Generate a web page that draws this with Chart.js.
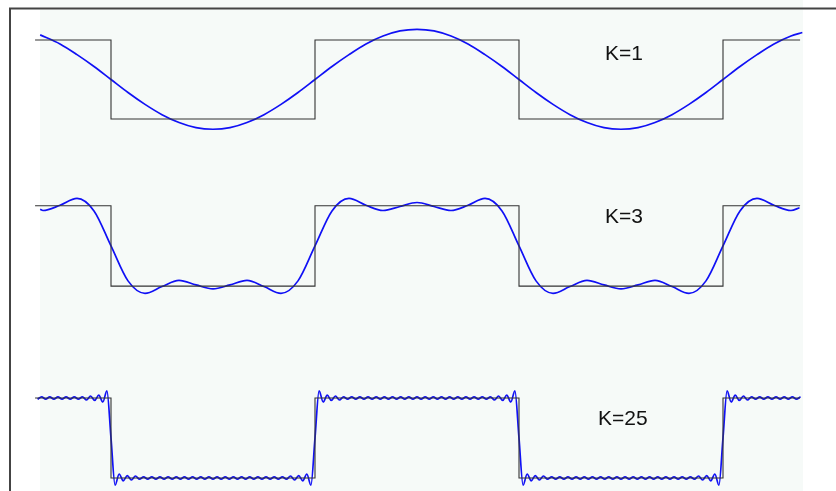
<!DOCTYPE html>
<html>
<head>
<meta charset="utf-8">
<title>Square wave Fourier partial sums</title>
<script src="https://cdn.jsdelivr.net/npm/chart.js"></script>
<style>
  html, body { margin: 0; padding: 0; background: #fff; }
  #wrap { width: 836px; height: 491px; }
</style>
</head>
<body>
<div id="wrap"><canvas id="myChart" width="836" height="491"></canvas></div>
<script>
// phase in degrees, 0 = first falling edge of the square wave
const tSquare = [-67, 0, 0, 180, 180, 360, 360, 540, 540, 608];
const vSquare = [1, 1, -1, -1, 1, 1, -1, -1, 1, 1];

const tK1 = [-62.5, -45, -30, -15, 0, 15, 30, 45, 60, 75, 90, 105, 120, 135, 150, 165,
  180, 195, 210, 225, 240, 255, 270, 285, 300, 315, 330, 345, 360, 375, 390, 405, 420,
  435, 450, 465, 480, 495, 510, 525, 540, 555, 570, 585, 600, 610];
const vK1 = [1.13, 0.90, 0.63, 0.33, 0.00, -0.33, -0.63, -0.89, -1.09, -1.22, -1.26, -1.22,
  -1.09, -0.89, -0.63, -0.33, 0.00, 0.33, 0.63, 0.90, 1.10, 1.23, 1.27, 1.23, 1.10, 0.90,
  0.63, 0.33, 0.00, -0.33, -0.63, -0.89, -1.09, -1.22, -1.26, -1.22, -1.09, -0.89, -0.63,
  -0.33, 0.00, 0.33, 0.63, 0.90, 1.10, 1.19];

const tK3 = [-62.5, -60, -45, -30, -15, 0, 15, 30, 45, 60, 75, 90, 105, 120, 135, 150, 165,
  180, 195, 210, 225, 240, 255, 270, 285, 300, 315, 330, 345, 360, 375, 390, 405, 420,
  435, 450, 465, 480, 495, 510, 525, 540, 555, 570, 585, 600, 607.5];
const vK3 = [0.91, 0.88, 1.01, 1.18, 0.87, 0,
  -0.87, -1.18, -1.01, -0.86, -0.97, -1.07, -0.97, -0.86, -1.01, -1.18, -0.87, 0,
  0.87, 1.18, 1.01, 0.88, 0.98, 1.08, 0.98, 0.88, 1.01, 1.18, 0.87, 0,
  -0.87, -1.18, -1.01, -0.86, -0.97, -1.07, -0.97, -0.86, -1.01, -1.18, -0.87, 0,
  0.87, 1.18, 1.01, 0.88, 0.95];

// K=25 read every 3.6 degrees, from -64.8
const k25Start = -64.8;
const k25Step = 3.6;
const vK25 = [
  0.97, 1.03, 0.97, 1.03, 0.97, 1.03, 0.97, 1.03, 0.97, 1.03, 0.97, 1.03,
  0.95, 1.05, 0.94, 1.07, 0.90, 1.18,
  0,
  -1.18, -0.90, -1.07, -0.94, -1.05, -0.95,
  -1.03, -0.97, -1.03, -0.97, -1.03, -0.97, -1.03, -0.97, -1.03, -0.97,
  -1.03, -0.97, -1.03, -0.97, -1.03, -0.97, -1.03, -0.97, -1.03, -0.97,
  -1.03, -0.97, -1.03, -0.97, -1.03, -0.97, -1.03, -0.97, -1.03, -0.97,
  -1.03, -0.97, -1.03, -0.97, -1.03, -0.97, -1.03,
  -0.95, -1.05, -0.94, -1.07, -0.90, -1.18,
  0,
  1.18, 0.90, 1.07, 0.94, 1.05, 0.95,
  1.03, 0.97, 1.03, 0.97, 1.03, 0.97, 1.03, 0.97, 1.03, 0.97,
  1.03, 0.97, 1.03, 0.97, 1.03, 0.97, 1.03, 0.97, 1.03, 0.97,
  1.03, 0.97, 1.03, 0.97, 1.03, 0.97, 1.03, 0.97, 1.03, 0.97,
  1.03, 0.97, 1.03, 0.97, 1.03, 0.97, 1.03,
  0.95, 1.05, 0.94, 1.07, 0.90, 1.18,
  0,
  -1.18, -0.90, -1.07, -0.94, -1.05, -0.95,
  -1.03, -0.97, -1.03, -0.97, -1.03, -0.97, -1.03, -0.97, -1.03, -0.97,
  -1.03, -0.97, -1.03, -0.97, -1.03, -0.97, -1.03, -0.97, -1.03, -0.97,
  -1.03, -0.97, -1.03, -0.97, -1.03, -0.97, -1.03, -0.97, -1.03, -0.97,
  -1.03, -0.97, -1.03, -0.97, -1.03, -0.97, -1.03,
  -0.95, -1.05, -0.94, -1.07, -0.90, -1.18,
  0,
  1.18, 0.90, 1.07, 0.94, 1.05, 0.95,
  1.03, 0.97, 1.03, 0.97, 1.03, 0.97, 1.03, 0.97, 1.03, 0.97, 1.03, 0.97, 1.03
];
const tK25 = vK25.map((_, i) => k25Start + k25Step * i);

const labels = ['K=1', 'K=3', 'K=25'];

// layout in pixels
const W = 836, H = 491;
const edgePx = 111, pxPerDeg = 204 / 180;
const panels = [
  { center: 79.5, scale: 39.5, label: [605, 60] },
  { center: 245.9, scale: 40.2, label: [605, 223] },
  { center: 438, scale: 40, label: [598, 425] }
];

const toPoints = (ts, vs) => ts.map((t, i) => ({ x: t, y: vs[i] }));

const frame = {
  id: 'frame',
  beforeDraw(chart) {
    const ctx = chart.ctx;
    ctx.save();
    ctx.fillStyle = '#f6faf8';
    ctx.fillRect(40, 0, 763, H);
    ctx.strokeStyle = '#444';
    ctx.lineWidth = 2;
    ctx.beginPath();
    ctx.moveTo(10, H);
    ctx.lineTo(10, 8.5);
    ctx.lineTo(W, 8.5);
    ctx.stroke();
    ctx.restore();
  },
  afterDraw(chart) {
    const ctx = chart.ctx;
    ctx.save();
    ctx.fillStyle = '#111';
    ctx.font = '21px "Liberation Sans", Arial, sans-serif';
    ctx.textBaseline = 'alphabetic';
    panels.forEach((p, i) => ctx.fillText(labels[i], p.label[0], p.label[1]));
    ctx.restore();
  }
};

const series = [[tK1, vK1], [tK3, vK3], [tK25, vK25]];
const datasets = [];
const scales = {
  x: { type: 'linear', display: false, min: -edgePx / pxPerDeg, max: (W - edgePx) / pxPerDeg }
};
panels.forEach((p, i) => {
  const axis = 'y' + (i + 1);
  scales[axis] = { type: 'linear', display: false, min: (p.center - H) / p.scale, max: p.center / p.scale };
  datasets.push({
    data: toPoints(tSquare, vSquare), yAxisID: axis,
    borderColor: '#333', borderWidth: 1.1, tension: 0
  });
  datasets.push({
    data: toPoints(series[i][0], series[i][1]), yAxisID: axis,
    borderColor: '#1010f5', borderWidth: 1.7, cubicInterpolationMode: 'monotone'
  });
});

new Chart(document.getElementById('myChart').getContext('2d'), {
  type: 'line',
  data: { datasets },
  options: {
    responsive: false,
    devicePixelRatio: 1,
    animation: false,
    layout: { padding: 0 },
    elements: { point: { radius: 0 } },
    plugins: { legend: { display: false }, tooltip: { enabled: false } },
    scales
  },
  plugins: [frame]
});
</script>
</body>
</html>
